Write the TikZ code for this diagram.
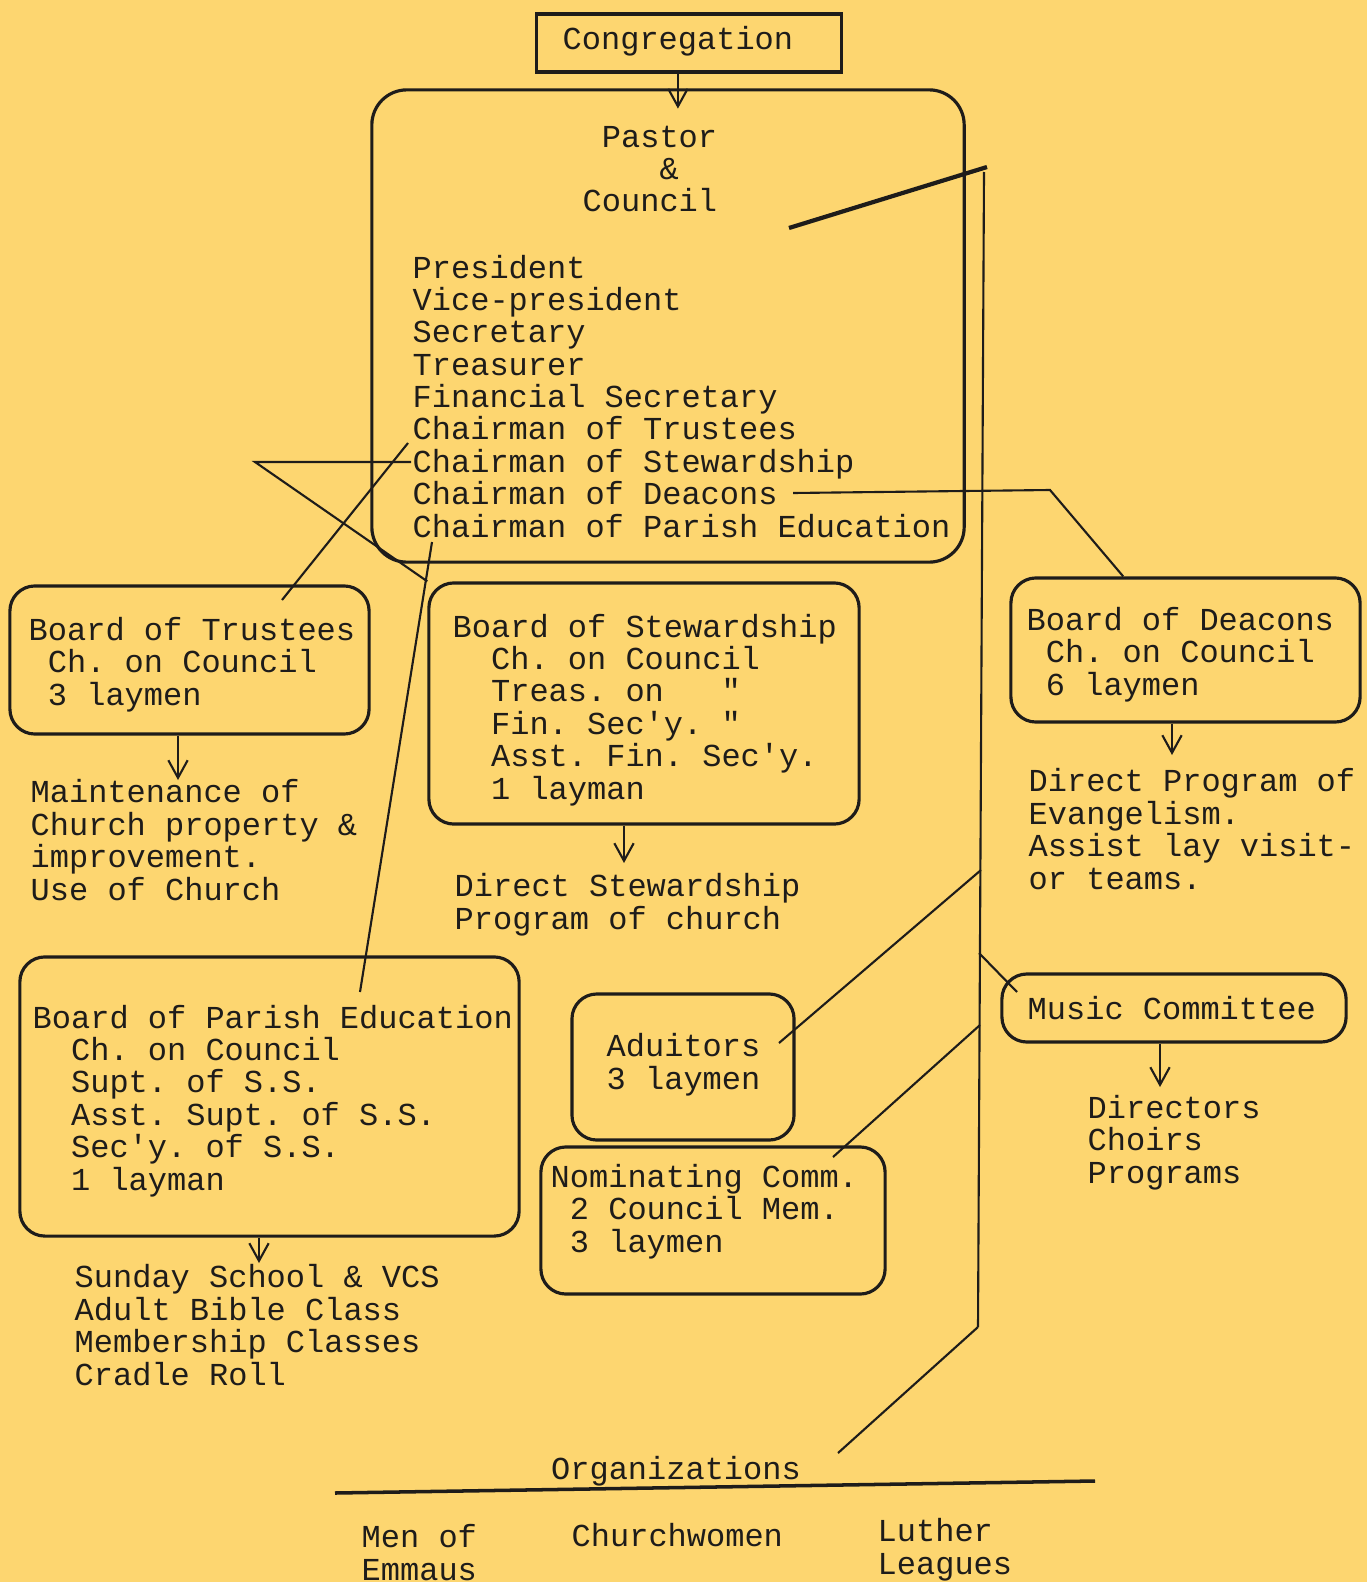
\documentclass[tikz,border=0pt]{standalone}
\usepackage{fontspec}
\setmainfont{Liberation Mono}[Ligatures=TeXOff]
\usetikzlibrary{arrows.meta}
\definecolor{paper}{RGB}{253,214,112}
\definecolor{ink}{RGB}{30,28,26}
\newcommand*{\typesp}{\hphantom{x}}

\begin{document}
\begin{tikzpicture}[x=0.01cm, y=-0.01cm,
    every node/.style={font=\fontsize{9.1}{9.2}\selectfont\frenchspacing, text=ink, inner sep=0pt},
    board/.style={draw=ink, line width=0.9pt, rounded corners=0.25cm},
    txt/.style={align=left, anchor=base west},
    link/.style={draw=ink, line width=0.6pt},
    down/.style={link, -{Straight Barb[length=5pt, width=5.5pt]}}]
    \fill[paper] (0,0) rectangle (1367,1582);
    \useasboundingbox (0,0) rectangle (1367,1582);

    % boxes
    \node[draw=ink, line width=0.9pt, minimum width=3.05cm, minimum height=0.58cm] (cong) at (689,43) {};
    \node[board, rounded corners=0.35cm, minimum width=5.92cm, minimum height=4.72cm] (council) at (668,326) {};
    \node[board, minimum width=3.59cm, minimum height=1.48cm] (trustees) at (189.5,660) {};
    \node[board, minimum width=4.30cm, minimum height=2.41cm] (stewardship) at (644,703.5) {};
    \node[board, minimum width=3.49cm, minimum height=1.44cm] (deacons) at (1185.5,650) {};
    \node[board, minimum width=4.99cm, minimum height=2.79cm] (parish) at (269.5,1096.5) {};
    \node[board, minimum width=2.22cm, minimum height=1.46cm] (aduitors) at (683,1067) {};
    \node[board, minimum width=3.44cm, minimum height=1.47cm] (nominating) at (713,1220.5) {};
    \node[board, minimum width=3.44cm, minimum height=0.68cm] (music) at (1174,1008) {};

    % texts (base = last line)
    \node[txt] (congtxt) at (562,50) {Congregation};
    \node[txt] (pastortxt) at (582,212) {\typesp Pastor\\\typesp\typesp\typesp\typesp\&\\Council};
    \node[txt] (officers) at (412,537) {President\\Vice-president\\Secretary\\Treasurer\\Financial Secretary\\Chairman of Trustees\\Chairman of Stewardship\\Chairman of Deacons\\Chairman of Parish Education};
    \node[txt] (trusteestxt) at (28,705) {Board of Trustees\\\typesp Ch. on Council\\\typesp 3 laymen};
    \node[txt] (stewardshiptxt) at (452,799) {Board of Stewardship\\\typesp\typesp Ch. on Council\\\typesp\typesp Treas. on\typesp\typesp\typesp"\\\typesp\typesp Fin. Sec'y.\typesp"\\\typesp\typesp Asst. Fin. Sec'y.\\\typesp\typesp 1 layman};
    \node[txt] (deaconstxt) at (1026,695) {Board of Deacons\\\typesp Ch. on Council\\\typesp 6 laymen};
    \node[txt] (parishtxt) at (32,1190) {Board of Parish Education\\\typesp\typesp Ch. on Council\\\typesp\typesp Supt. of S.S.\\\typesp\typesp Asst. Supt. of S.S.\\\typesp\typesp Sec'y. of S.S.\\\typesp\typesp 1 layman};
    \node[txt] (aduitorstxt) at (606,1089) {Aduitors\\3 laymen};
    \node[txt] (nominatingtxt) at (550,1252) {Nominating Comm.\\\typesp 2 Council Mem.\\\typesp 3 laymen};
    \node[txt] (musictxt) at (1027,1019) {Music Committee};

    \node[txt] (maintenance) at (30,900) {Maintenance of\\Church property \&\\improvement.\\Use of Church};
    \node[txt] (stwprogram) at (454,929) {Direct Stewardship\\Program of church};
    \node[txt] (evangelism) at (1028,889) {Direct Program of\\Evangelism.\\Assist lay visit-\\or teams.};
    \node[txt] (school) at (74,1385) {Sunday School \& VCS\\Adult Bible Class\\Membership Classes\\Cradle Roll};
    \node[txt] (choirs) at (1087,1183) {Directors\\Choirs\\Programs};

    \node[anchor=base] (organizations) at (676,1479) {Organizations};
    \node[txt] (emmaus) at (361,1580) {Men of\\Emmaus};
    \node[txt] (churchwomen) at (571,1546) {Churchwomen};
    \node[txt] (luther) at (877,1574) {Luther\\Leagues};
    \coordinate (orgleft) at (335,1493);
    \coordinate (orgright) at (1095,1481);
    \draw[link, line width=1pt] (orgleft) -- (orgright);

    % arrows down
    \draw[down] (congtxt |- cong.south) -- ++(0,35);
    \coordinate (trsarrow) at (178,780);
    \draw[down] (trustees.south -| trsarrow) -- (trsarrow);
    \coordinate (stwarrow) at (624,863);
    \draw[down] (stewardship.south -| stwarrow) -- (stwarrow);
    \coordinate (dcnarrow) at (1172,755);
    \draw[down] (deacons.south -| dcnarrow) -- (dcnarrow);
    \coordinate (pedarrow) at (259,1263);
    \draw[down] (parish.south -| pedarrow) -- (pedarrow);
    \coordinate (musarrow) at (1160,1087);
    \draw[down] (music.south -| musarrow) -- (musarrow);

    % lines from the council
    \coordinate (spinetop) at (984,172);
    \coordinate (spinebot) at (978,1327);
    \draw[link] (spinetop) -- (spinebot);
    \coordinate (councilend) at (789,228);
    \coordinate (councilrise) at (987,167);
    \draw[link, line width=1.2pt] (councilend) -- (councilrise);

    \coordinate (stwstart) at (411,462);
    \coordinate (stwbend) at (255,462);
    \draw[link] (stwstart) -- (stwbend) -- (stewardship.north west);
    \coordinate (trsstart) at (408,443);
    \coordinate (trsend) at (282,600);
    \draw[link] (trsstart) -- (trsend);
    \coordinate (dcnstart) at (793,493);
    \coordinate (dcnbend) at (1050,490);
    \draw[link] (dcnstart) -- (dcnbend) -- (deacons);
    \coordinate (pedstart) at (432,542);
    \coordinate (pedend) at (360,992);
    \draw[link] (pedstart) -- (pedend);

    \coordinate (audstart) at (981,870);
    \coordinate (audend) at (779,1043);
    \draw[link] (audstart) -- (audend);
    \coordinate (musstart) at (979,953);
    \coordinate (musend) at (1017,992);
    \draw[link] (musstart) -- (musend);
    \coordinate (nomstart) at (980,1025);
    \coordinate (nomend) at (833,1157);
    \draw[link] (nomstart) -- (nomend);
    \coordinate (orgend) at (838,1453);
    \draw[link] (spinebot) -- (orgend);
\end{tikzpicture}
\end{document}
